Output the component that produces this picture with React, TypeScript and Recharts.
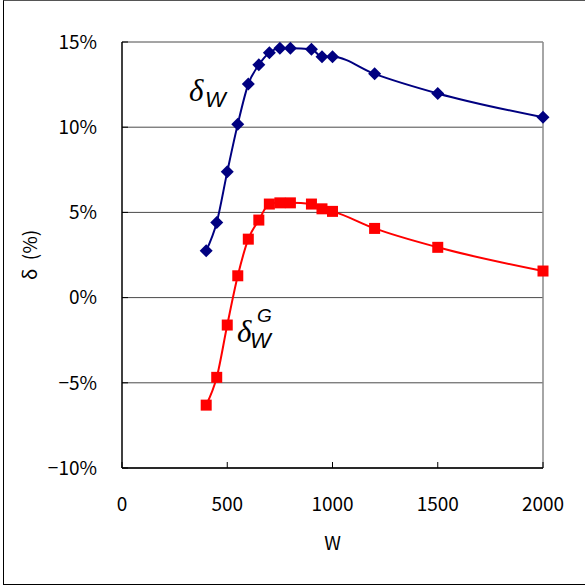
import React from 'react';
import { LineChart, Line, XAxis, YAxis, CartesianGrid, ReferenceLine } from 'recharts';

const wValues = [400, 450, 500, 550, 600, 650, 700, 750, 800, 900, 950, 1000, 1200, 1500, 2000];
const deltaW = [2.75, 4.41, 7.38, 10.18, 12.53, 13.66, 14.37, 14.64, 14.64, 14.57, 14.13, 14.13, 13.13, 11.98, 10.58];
const deltaWG = [-6.31, -4.68, -1.61, 1.28, 3.43, 4.55, 5.49, 5.56, 5.56, 5.49, 5.21, 5.06, 4.06, 2.95, 1.56];

const xTicks = [0, 500, 1000, 1500, 2000];
const yTicks = [-10, -5, 0, 5, 10, 15];
const yTickLabels = ['\u221210%', '\u22125%', '0%', '5%', '10%', '15%'];

const data = wValues.map((w, i) => ({ w, dW: deltaW[i], dWG: deltaWG[i] }));

const FONT = '"Noto Sans CJK JP", "Noto Sans", sans-serif';

const Diamond = (props: any) => {
  const { cx, cy } = props;
  if (cx == null || cy == null) return null;
  const r = 6.5;
  return (
    <path
      d={`M${cx},${cy - r} L${cx + r},${cy} L${cx},${cy + r} L${cx - r},${cy} Z`}
      fill="#000080"
      stroke="none"
    />
  );
};

const Square = (props: any) => {
  const { cx, cy } = props;
  if (cx == null || cy == null) return null;
  const h = 5.5;
  return <rect x={cx - h} y={cy - h} width={2 * h} height={2 * h} fill="#FF0000" stroke="none" />;
};

export default function App() {
  return (
    <div style={{ position: 'absolute', left: 0, top: 0, width: 585, height: 585, overflow: 'hidden', background: '#fff' }}>
      <div
        style={{
          position: 'absolute',
          left: 3,
          top: 0,
          width: 620,
          height: 585,
          boxSizing: 'border-box',
          borderLeft: '1.5px solid #000',
          borderBottom: '1.5px solid #000',
          borderTop: '1.5px solid #555',
        }}
      />
      <div style={{ position: 'absolute', left: 0, top: 0 }}>
        <LineChart width={585} height={585} data={data} margin={{ top: 42, right: 42, bottom: 0, left: 0 }}>
          <CartesianGrid vertical={false} stroke="#4a4a4a" strokeWidth={1} />
          <ReferenceLine x={2000} stroke="#888" strokeWidth={1.5} />
          <XAxis
            dataKey="w"
            type="number"
            domain={[0, 2000]}
            ticks={xTicks}
            height={117}
            axisLine={{ stroke: '#000', strokeWidth: 1.5 }}
            tickLine={{ stroke: '#000' }}
            tickSize={-6}
            tickMargin={36}
            tick={{ fill: '#000', fontSize: 19, fontFamily: FONT }}
            label={{ value: 'W', position: 'insideBottom', offset: 35, fill: '#000', fontSize: 19, fontFamily: FONT }}
          />
          <YAxis
            type="number"
            domain={[-10, 15]}
            ticks={yTicks}
            width={122}
            axisLine={{ stroke: '#000', strokeWidth: 1.5 }}
            tickLine={{ stroke: '#000' }}
            tickSize={-6}
            tickMargin={31}
            tickFormatter={(v: number) => yTickLabels[yTicks.indexOf(v)]}
            tick={{ fill: '#000', fontSize: 19, fontFamily: FONT }}
            label={{
              value: '\u03b4 \u00a0(%)',
              angle: -90,
              position: 'insideLeft',
              offset: 30,
              fill: '#000',
              fontSize: 19,
              fontFamily: FONT,
              style: { textAnchor: 'middle' },
            }}
          />
          <Line
            type="monotone"
            dataKey="dW"
            stroke="#000080"
            strokeWidth={2}
            dot={<Diamond />}
            activeDot={false}
            isAnimationActive={false}
          />
          <Line
            type="monotone"
            dataKey="dWG"
            stroke="#FF0000"
            strokeWidth={2}
            dot={<Square />}
            activeDot={false}
            isAnimationActive={false}
          />
        </LineChart>
      </div>
      <svg width={585} height={585} style={{ position: 'absolute', left: 0, top: 0, pointerEvents: 'none' }}>
        <text x={189} y={101} fontFamily='"Liberation Serif", serif' fontStyle="italic" fontSize={31} fill="#000">
          {'\u03b4'}
        </text>
        <text x={205} y={107} fontFamily='"Liberation Sans", sans-serif' fontStyle="italic" fontSize={22} fill="#000">
          W
        </text>
        <text x={237} y={342} fontFamily='"Liberation Serif", serif' fontStyle="italic" fontSize={31} fill="#000">
          {'\u03b4'}
        </text>
        <text x={257} y={322} fontFamily='"Liberation Sans", sans-serif' fontStyle="italic" fontSize={19} fill="#000">
          G
        </text>
        <text x={250} y={348} fontFamily='"Liberation Sans", sans-serif' fontStyle="italic" fontSize={22} fill="#000">
          W
        </text>
      </svg>
    </div>
  );
}
